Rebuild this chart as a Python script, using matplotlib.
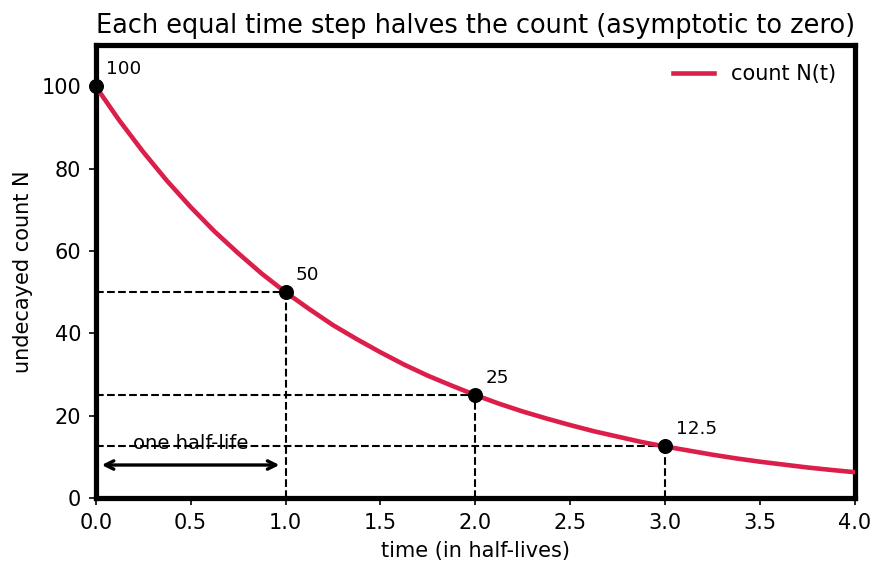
import matplotlib
matplotlib.use("Agg")
import matplotlib.pyplot as plt

# valores (cada 1/8 de vida media)
tiempo = [0, 0.125, 0.25, 0.375, 0.5, 0.625, 0.75, 0.875,
          1.0, 1.125, 1.25, 1.375, 1.5, 1.625, 1.75, 1.875,
          2.0, 2.125, 2.25, 2.375, 2.5, 2.625, 2.75, 2.875,
          3.0, 3.125, 3.25, 3.375, 3.5, 3.625, 3.75, 3.875, 4.0]
cuenta = [100, 91.7, 84.1, 77.1, 70.7, 64.8, 59.5, 54.5,
          50, 45.9, 42.0, 38.6, 35.4, 32.4, 29.7, 27.3,
          25, 22.9, 21.0, 19.3, 17.7, 16.2, 14.9, 13.6,
          12.5, 11.5, 10.5, 9.6, 8.8, 8.1, 7.4, 6.8, 6.25]

# puntos marcados
t_marcas = [0, 1, 2, 3]
n_marcas = [100, 50, 25, 12.5]
etiquetas = ["100", "50", "25", "12.5"]

fig = plt.figure(figsize=(886 / 150, 573 / 150), dpi=150)
ax = fig.add_axes([0.108, 0.131, 0.857, 0.790])

ax.plot(tiempo, cuenta, color="#DC1E4A", lw=2.2, label="count N(t)", zorder=3)

for t, n, et in zip(t_marcas, n_marcas, etiquetas):
    if t > 0:
        ax.plot([0, t], [n, n], "k--", lw=1.0, zorder=2)
        ax.plot([t, t], [0, n], "k--", lw=1.0, zorder=2)
    ax.plot(t, n, "o", color="black", ms=6.2, zorder=4, clip_on=False)
    ax.annotate(et, (t, n), xytext=(5, 6), textcoords="offset points", fontsize=8.8)

# flecha de una vida media
ax.annotate("", xy=(0.99, 8), xytext=(0.01, 8),
            arrowprops=dict(arrowstyle="<->", color="black", lw=1.6))
ax.text(0.5, 13.3, "one half-life", ha="center", va="center", fontsize=9.4)

ax.set_xlim(0, 4)
ax.set_ylim(0, 110)
ax.set_xticks([0, 0.5, 1.0, 1.5, 2.0, 2.5, 3.0, 3.5, 4.0])
ax.set_yticks([0, 20, 40, 60, 80, 100])
ax.tick_params(labelsize=10)
for s in ax.spines.values():
    s.set_linewidth(2.5)

ax.set_title("Each equal time step halves the count (asymptotic to zero)", fontsize=12.3)
ax.set_xlabel("time (in half-lives)", fontsize=10)
ax.set_ylabel("undecayed count N", fontsize=10)
ax.legend(loc="upper right", frameon=False, fontsize=10)

fig.savefig("out.png", dpi=150)
